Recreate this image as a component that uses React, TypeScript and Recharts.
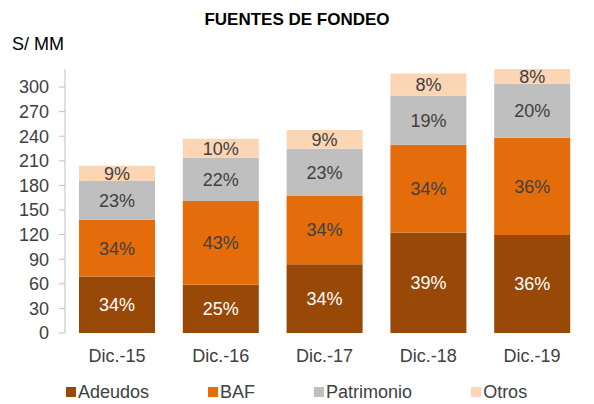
import React from 'react';
import { BarChart, Bar, XAxis, YAxis, LabelList } from 'recharts';

const categories = ['Dic.-15', 'Dic.-16', 'Dic.-17', 'Dic.-18', 'Dic.-19'];
const adeudos = [69, 59, 84, 122.5, 119.5];
const baf = [69, 102, 83.6, 107, 118.5];
const patrimonio = [47.5, 53, 57, 60, 66];
const otros = [18.5, 23, 23, 27, 26];

const adeudosPct = ['34%', '25%', '34%', '39%', '36%'];
const bafPct = ['34%', '43%', '34%', '34%', '36%'];
const patrimonioPct = ['23%', '22%', '23%', '19%', '20%'];
const otrosPct = ['9%', '10%', '9%', '8%', '8%'];

const yTicks = [0, 30, 60, 90, 120, 150, 180, 210, 240, 270, 300];
const boundaryTicks = [0, 1, 2, 3, 4, 5];

const series = [
  { key: 'Adeudos', color: '#984807', label: '#FFFFFF' },
  { key: 'BAF', color: '#E46C0A', label: '#404040' },
  { key: 'Patrimonio', color: '#BFBFBF', label: '#404040' },
  { key: 'Otros', color: '#FCD5B5', label: '#404040' },
];

const data = categories.map((name, i) => ({
  name,
  Adeudos: adeudos[i],
  BAF: baf[i],
  Patrimonio: patrimonio[i],
  Otros: otros[i],
  AdeudosPct: adeudosPct[i],
  BAFPct: bafPct[i],
  PatrimonioPct: patrimonioPct[i],
  OtrosPct: otrosPct[i],
}));

const FONT = '"Liberation Sans", Arial, sans-serif';
const TEXT = '#404040';

const EmptyTick = () => <g />;

export default function App() {
  return (
    <div style={{ position: 'absolute', left: 0, top: 0, width: 594, height: 404, fontFamily: FONT, background: '#fff' }}>
      <div style={{ position: 'absolute', top: 10, left: 0, width: 594, textAlign: 'center', fontSize: 17, lineHeight: '20px', fontWeight: 'bold', color: '#000' }}>
        FUENTES DE FONDEO
      </div>
      <div style={{ position: 'absolute', top: 34, left: 12, fontSize: 18, lineHeight: '20px', color: '#000' }}>S/ MM</div>
      <BarChart
        width={594}
        height={404}
        data={data}
        margin={{ top: 69, right: 10, bottom: 41, left: 8 }}
        barSize={76}
        style={{ fontFamily: FONT }}
      >
        <XAxis
          xAxisId="bounds"
          type="number"
          domain={[0, 5]}
          ticks={boundaryTicks}
          tick={<EmptyTick />}
          tickSize={6}
          height={0}
          axisLine={{ stroke: '#BFBFBF' }}
          tickLine={{ stroke: '#BFBFBF' }}
        />
        <XAxis
          xAxisId="cat"
          dataKey="name"
          height={30}
          axisLine={false}
          tickLine={false}
          tickSize={6}
          tickMargin={10}
          tick={{ fill: TEXT, fontSize: 18, fontFamily: FONT }}
          interval={0}
        />
        <YAxis
          domain={[0, 322]}
          allowDataOverflow
          ticks={yTicks}
          interval={0}
          width={57}
          tickSize={6}
          tickMargin={10}
          axisLine={{ stroke: '#BFBFBF' }}
          tickLine={{ stroke: '#BFBFBF' }}
          tick={{ fill: TEXT, fontSize: 18, fontFamily: FONT }}
        />
        {series.map((s) => (
          <Bar key={s.key} xAxisId="cat" dataKey={s.key} stackId="a" fill={s.color} isAnimationActive={false}>
            <LabelList dataKey={`${s.key}Pct`} position="center" fill={s.label} fontSize={18} fontFamily={FONT} />
          </Bar>
        ))}
      </BarChart>
      <div style={{ position: 'absolute', top: 382, left: 66, display: 'flex', alignItems: 'center', gap: 59, fontSize: 18, lineHeight: '20px', color: TEXT }}>
        {series.map((s) => (
          <div key={s.key} style={{ display: 'flex', alignItems: 'center' }}>
            <span style={{ display: 'inline-block', width: 10, height: 10, background: s.color, marginRight: 2 }} />
            <span>{s.key}</span>
          </div>
        ))}
      </div>
    </div>
  );
}
